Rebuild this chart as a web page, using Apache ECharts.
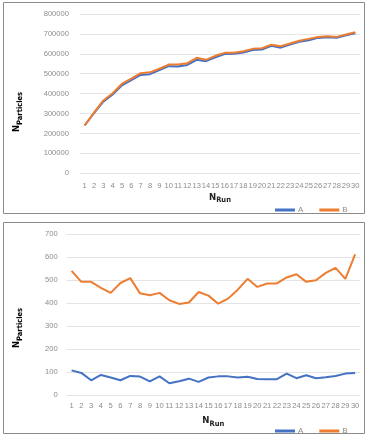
<!DOCTYPE html>
<html><head><meta charset="utf-8">
<script src="https://cdn.jsdelivr.net/npm/echarts@6/dist/echarts.min.js"></script>
<style>html,body{margin:0;padding:0;background:#fff}#c{width:369px;height:437px}</style>
</head><body><div id="c"></div>
<script>
const runs = ['1','2','3','4','5','6','7','8','9','10','11','12','13','14','15','16','17','18','19','20','21','22','23','24','25','26','27','28','29','30'];
const topA = [240000,302000,360000,396000,442000,468000,494000,498000,518000,538000,536000,544000,570000,563000,583000,599000,600000,607000,619000,622000,640000,631000,647000,660000,668000,680000,683000,681000,693000,703000];
const topB = [241000,305000,366000,402000,450000,475000,503000,507000,525000,546000,546000,553000,580000,570000,590000,605000,605000,613000,625000,628000,646000,638000,652000,666000,675000,685000,688000,685000,697000,708000];
const botA = [107,96,64,87,76,64,83,80,59,81,51,60,71,57,76,81,81,76,79,70,69,69,93,73,86,73,77,83,93,96];
const botB = [540,492,492,466,444,487,508,442,434,444,412,396,402,448,432,397,419,458,505,470,485,485,511,525,492,499,531,553,505,611];
const topTicks = [0,100000,200000,300000,400000,500000,600000,700000,800000];
const botTicks = [0,100,200,300,400,500,600,700];

const cA = '#4472C4', cB = '#ED7D31';
const lblColor = '#8c8c8c';
const ff = 'Liberation Sans';
const tf = "'DejaVu Sans Condensed', 'Liberation Sans', sans-serif";
const chart = echarts.init(document.getElementById('c'));
const rich = {
  n:{fontFamily:tf, fontWeight:'bold', fontSize:9.5, color:'#222'},
  s:{fontFamily:tf, fontWeight:'bold', fontSize:7.5, color:'#222', verticalAlign:'bottom', padding:[6,0,0,0]}
};
function xAx(gi, margin, nameGap){
  return {type:'category', gridIndex:gi, data:runs, boundaryGap:true,
    axisLine:{show:false}, axisTick:{show:false},
    axisLabel:{interval:0, color:lblColor, fontSize:7.6, fontFamily:ff, margin:margin},
    name:'{n|N}{s|Run}', nameLocation:'middle', nameGap:nameGap, nameTextStyle:{rich:rich}};
}
function yAx(gi, ticks, margin){
  return {type:'value', gridIndex:gi, min:ticks[0], max:ticks[ticks.length-1], interval:ticks[1]-ticks[0],
    axisLine:{show:false}, axisTick:{show:false},
    splitLine:{lineStyle:{color:'#e4e4e4', width:1}},
    axisLabel:{color:lblColor, fontSize:7.6, fontFamily:ff, margin:margin, formatter:(v)=>String(v)}};
}
const lineS = (name, color, data, xi, yi) => ({type:'line', name:name, data:data, xAxisIndex:xi, yAxisIndex:yi,
  symbol:'none', lineStyle:{color:color, width:2}, itemStyle:{color:color}, z: name==='B'?3:2});
const legendBase = (top) => ({data:['A','B'], left:270, top:top, icon:'rect', itemWidth:20, itemHeight:3, itemGap:16,
  textStyle:{fontSize:8, color:lblColor, fontFamily:ff, padding:[0,0,0,-2]}, selectedMode:false});
chart.setOption({
  animation:false,
  graphic:[
    {type:'rect', shape:{x:3.5,y:2.5,width:361,height:211}, style:{fill:'none', stroke:'#8a8a8a', lineWidth:1}},
    {type:'rect', shape:{x:3.5,y:222.5,width:361,height:211}, style:{fill:'none', stroke:'#8a8a8a', lineWidth:1}},
    {type:'text', x:17, y:112, rotation:Math.PI/2, style:{text:'{n|N}{s|Particles}', rich:rich, align:'center', verticalAlign:'middle'}},
    {type:'text', x:17, y:328, rotation:Math.PI/2, style:{text:'{n|N}{s|Particles}', rich:rich, align:'center', verticalAlign:'middle'}}
  ],
  grid:[
    {left:80, right:9, top:14, height:159.3, containLabel:false},
    {left:66.7, right:9, top:234, height:161, containLabel:false}
  ],
  xAxis:[xAx(0, 9, 17), xAx(1, 7, 19)],
  yAxis:[yAx(0, topTicks, 11), yAx(1, botTicks, 9)],
  legend:[legendBase(201), legendBase(422)],
  series:[
    lineS('A', cA, topA, 0, 0), lineS('B', cB, topB, 0, 0),
    lineS('A', cA, botA, 1, 1), lineS('B', cB, botB, 1, 1)
  ]
});
</script></body></html>
